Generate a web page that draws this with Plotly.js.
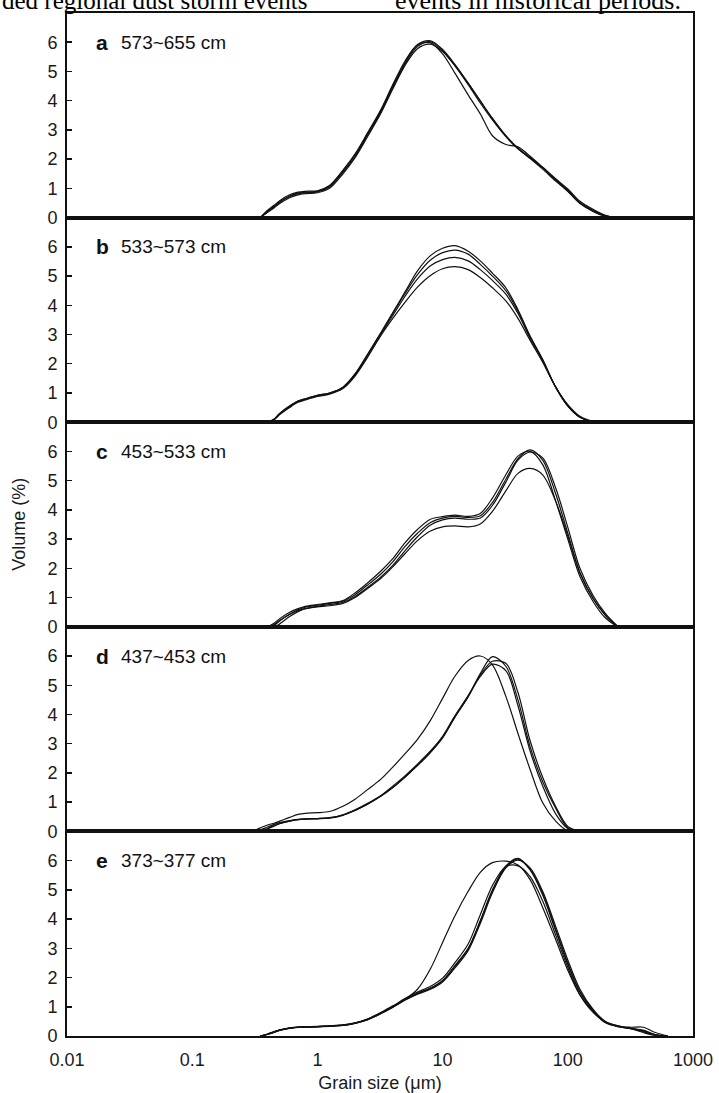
<!DOCTYPE html>
<html>
<head>
<meta charset="utf-8">
<script src="https://cdn.plot.ly/plotly-3.0.1.min.js"></script>
<style>html,body{margin:0;padding:0;background:#fff;}#chart{width:719px;height:1093px;}</style>
</head>
<body>
<div id="chart"></div>
<script>
// Panel labels
const panelLetters = ["a", "b", "c", "d", "e"];
const panelDepths = ["573~655 cm", "533~573 cm", "453~533 cm", "437~453 cm", "373~377 cm"];
const xTickVals = [0.01, 0.1, 1, 10, 100, 1000];
const xTickText = ["0.01", "0.1", "1", "10", "100", "1000"];
const yTickVals = [0, 1, 2, 3, 4, 5, 6];

// Panel a (573~655 cm) grain sizes (µm) and volume (%)
const sizeA = [0.35, 0.4, 0.45, 0.5, 0.6, 0.7, 0.8, 1, 1.25, 1.6, 2, 2.5, 3.2, 4, 5, 6.3, 8, 10, 12.5, 16, 20, 25, 32, 40, 50, 63, 80, 100, 125, 160, 200, 250];
const a1 = [0, 0.2, 0.36, 0.52, 0.72, 0.82, 0.85, 0.88, 1.05, 1.55, 2.1, 2.8, 3.6, 4.45, 5.25, 5.85, 6.02, 5.7, 5.2, 4.55, 3.92, 3.34, 2.77, 2.35, 2.04, 1.7, 1.3, 0.95, 0.52, 0.25, 0.06, 0];
const a2 = [0, 0.25, 0.42, 0.58, 0.78, 0.87, 0.9, 0.92, 1.1, 1.62, 2.18, 2.88, 3.68, 4.55, 5.35, 5.92, 6.05, 5.75, 5.25, 4.6, 3.98, 3.38, 2.8, 2.38, 2.06, 1.72, 1.33, 0.98, 0.56, 0.28, 0.08, 0];
const a3 = [0, 0.18, 0.33, 0.48, 0.68, 0.78, 0.82, 0.85, 1.0, 1.5, 2.05, 2.75, 3.55, 4.4, 5.2, 5.78, 5.93, 5.68, 5.22, 4.6, 4.0, 3.4, 2.8, 2.36, 2.02, 1.66, 1.25, 0.9, 0.48, 0.22, 0.05, 0];
const a4 = [0, 0.22, 0.38, 0.54, 0.74, 0.84, 0.87, 0.9, 1.08, 1.6, 2.15, 2.85, 3.65, 4.5, 5.3, 5.9, 5.98, 5.6, 4.95, 4.2, 3.55, 2.8, 2.5, 2.42, 2.1, 1.72, 1.3, 0.9, 0.5, 0.2, 0.04, 0];

// Panel b (533~573 cm)
const sizeB = [0.4, 0.45, 0.5, 0.6, 0.7, 0.8, 1, 1.25, 1.6, 2, 2.5, 3.2, 4, 5, 6.3, 8, 10, 12.5, 16, 20, 25, 32, 40, 50, 63, 80, 100, 125, 160, 200];
const b1 = [0, 0.1, 0.3, 0.55, 0.72, 0.8, 0.92, 1.0, 1.2, 1.65, 2.3, 3.05, 3.75, 4.45, 5.18, 5.7, 5.95, 6.04, 5.85, 5.52, 5.1, 4.6, 3.85, 2.95, 2.15, 1.2, 0.55, 0.17, 0.02, 0];
const b2 = [0, 0.1, 0.3, 0.55, 0.72, 0.8, 0.92, 1.0, 1.2, 1.65, 2.3, 3.03, 3.72, 4.4, 5.05, 5.55, 5.8, 5.89, 5.75, 5.4, 5.0, 4.5, 3.8, 2.92, 2.12, 1.2, 0.56, 0.17, 0.02, 0];
const b3 = [0, 0.09, 0.28, 0.53, 0.7, 0.78, 0.9, 0.98, 1.18, 1.62, 2.26, 3.0, 3.65, 4.3, 4.9, 5.35, 5.56, 5.64, 5.52, 5.22, 4.85, 4.38, 3.72, 2.88, 2.1, 1.2, 0.57, 0.18, 0.02, 0];
const b4 = [0, 0.08, 0.26, 0.5, 0.68, 0.76, 0.88, 0.96, 1.15, 1.58, 2.2, 2.95, 3.55, 4.1, 4.62, 5.02, 5.25, 5.32, 5.22, 4.95, 4.6, 4.15, 3.55, 2.8, 2.05, 1.2, 0.6, 0.2, 0.03, 0];

// Panel c (453~533 cm)
const sizeC = [0.4, 0.45, 0.5, 0.6, 0.7, 0.8, 1, 1.25, 1.6, 2, 2.5, 3.2, 4, 5, 6.3, 8, 10, 12.5, 16, 20, 25, 32, 40, 50, 63, 80, 100, 125, 160, 200, 250];
const c1 = [0, 0.12, 0.28, 0.5, 0.62, 0.7, 0.76, 0.82, 0.9, 1.16, 1.49, 1.9, 2.33, 2.87, 3.33, 3.68, 3.77, 3.82, 3.78, 3.88, 4.4, 5.2, 5.84, 6.0, 5.55, 4.3, 3.0, 1.72, 0.85, 0.3, 0];
const c2 = [0, 0.05, 0.2, 0.44, 0.58, 0.67, 0.74, 0.8, 0.88, 1.1, 1.42, 1.8, 2.22, 2.74, 3.2, 3.57, 3.72, 3.78, 3.74, 3.8, 4.25, 5.05, 5.75, 6.05, 5.7, 4.55, 3.2, 1.85, 0.95, 0.38, 0];
const c3 = [0, 0, 0.1, 0.35, 0.52, 0.62, 0.7, 0.76, 0.84, 1.04, 1.34, 1.7, 2.1, 2.6, 3.08, 3.48, 3.66, 3.72, 3.68, 3.72, 4.15, 4.95, 5.7, 5.98, 5.78, 4.75, 3.4, 2.0, 1.05, 0.45, 0.02];
const c4 = [0, 0.08, 0.22, 0.42, 0.55, 0.62, 0.68, 0.72, 0.8, 1.0, 1.3, 1.65, 2.05, 2.5, 2.95, 3.28, 3.42, 3.45, 3.42, 3.52, 3.95, 4.65, 5.25, 5.42, 5.2, 4.3, 3.1, 1.85, 0.95, 0.4, 0];

// Panel d (437~453 cm)
const sizeD = [0.3, 0.35, 0.4, 0.45, 0.5, 0.6, 0.7, 0.8, 1, 1.25, 1.6, 2, 2.5, 3.2, 4, 5, 6.3, 8, 10, 12.5, 16, 20, 25, 32, 40, 50, 63, 80, 100, 125, 160];
const d1 = [0, 0.12, 0.22, 0.28, 0.35, 0.48, 0.58, 0.62, 0.64, 0.68, 0.86, 1.1, 1.42, 1.78, 2.2, 2.65, 3.15, 3.8, 4.55, 5.3, 5.85, 6.0, 5.7, 4.62, 3.35, 2.12, 0.98, 0.35, 0.02, 0, 0];
const d2 = [0, 0, 0.08, 0.18, 0.26, 0.35, 0.4, 0.42, 0.43, 0.45, 0.55, 0.72, 0.92, 1.2, 1.5, 1.85, 2.25, 2.7, 3.2, 3.9, 4.6, 5.4, 5.98, 5.65, 4.5, 2.9, 1.7, 0.79, 0.12, 0, 0];
const d3 = [0, 0.05, 0.15, 0.24, 0.3, 0.37, 0.41, 0.43, 0.44, 0.47, 0.57, 0.74, 0.95, 1.22, 1.55, 1.9, 2.3, 2.75, 3.25, 3.95, 4.65, 5.35, 5.82, 5.75, 4.75, 3.1, 1.85, 0.85, 0.17, 0.01, 0];
const d4 = [0, 0, 0.1, 0.2, 0.27, 0.35, 0.4, 0.42, 0.44, 0.46, 0.56, 0.72, 0.93, 1.2, 1.5, 1.86, 2.27, 2.72, 3.22, 3.9, 4.62, 5.3, 5.72, 5.5, 4.3, 2.75, 1.55, 0.6, 0.1, 0, 0];

// Panel e (373~377 cm)
const sizeE = [0.35, 0.4, 0.45, 0.5, 0.6, 0.7, 0.8, 1, 1.25, 1.6, 2, 2.5, 3.2, 4, 5, 6.3, 8, 10, 12.5, 16, 20, 25, 32, 40, 50, 63, 80, 100, 125, 160, 200, 250, 320, 400, 500, 630];
const e1 = [0, 0.06, 0.14, 0.2, 0.27, 0.3, 0.31, 0.32, 0.34, 0.37, 0.44, 0.56, 0.78, 1.0, 1.25, 1.46, 1.64, 1.9, 2.4, 3.0, 3.95, 5.0, 5.82, 6.08, 5.7, 4.88, 3.65, 2.5, 1.52, 0.88, 0.5, 0.35, 0.27, 0.2, 0.05, 0];
const e2 = [0, 0.05, 0.12, 0.19, 0.26, 0.29, 0.3, 0.31, 0.33, 0.36, 0.43, 0.55, 0.76, 0.98, 1.22, 1.43, 1.6, 1.85, 2.32, 2.92, 3.85, 4.9, 5.75, 6.02, 5.75, 4.95, 3.75, 2.6, 1.6, 0.9, 0.48, 0.32, 0.25, 0.15, 0.03, 0];
const e3 = [0, 0.07, 0.15, 0.21, 0.28, 0.31, 0.32, 0.33, 0.35, 0.38, 0.45, 0.58, 0.8, 1.03, 1.28, 1.5, 1.7, 1.98, 2.5, 3.15, 4.15, 5.15, 5.8, 5.82, 5.45, 4.62, 3.45, 2.35, 1.42, 0.82, 0.46, 0.33, 0.25, 0.18, 0.04, 0];
const e4 = [0, 0.06, 0.13, 0.2, 0.27, 0.3, 0.31, 0.32, 0.34, 0.37, 0.44, 0.56, 0.77, 0.99, 1.24, 1.45, 1.63, 1.88, 2.38, 2.98, 3.92, 4.95, 5.78, 6.05, 5.68, 4.82, 3.6, 2.45, 1.5, 0.85, 0.45, 0.33, 0.3, 0.3, 0.12, 0];
const e5 = [0, 0.06, 0.14, 0.2, 0.27, 0.3, 0.31, 0.32, 0.34, 0.37, 0.44, 0.56, 0.78, 1.0, 1.25, 1.6, 2.3, 3.2, 4.1, 4.95, 5.6, 5.93, 5.98, 5.85, 5.35, 4.4, 3.3, 2.25, 1.4, 0.8, 0.48, 0.35, 0.25, 0.12, 0.02, 0];

// Header text cropped from the source page
const headerLeft = "ded regional dust storm events";
const headerRight = "events in historical periods.";

const panels = [
  {size: sizeA, curves: [a1, a2, a3, a4]},
  {size: sizeB, curves: [b1, b2, b3, b4]},
  {size: sizeC, curves: [c1, c2, c3, c4]},
  {size: sizeD, curves: [d1, d2, d3, d4]},
  {size: sizeE, curves: [e1, e2, e3, e4, e5]}
];

const FONT = "Liberation Sans, Arial, sans-serif";
const traces = [];
const layout = {
  width: 719, height: 1093,
  margin: {l: 67, r: 26, t: 13, b: 57, pad: 0},
  paper_bgcolor: "#ffffff", plot_bgcolor: "#ffffff",
  showlegend: false,
  font: {family: FONT, color: "#1a1a1a", size: 18},
  annotations: []
};

const n = panels.length;
panels.forEach((p, i) => {
  const k = i + 1;
  const xa = k === 1 ? "x" : "x" + k;
  const ya = k === 1 ? "y" : "y" + k;
  p.curves.forEach(c => {
    traces.push({
      type: "scatter", mode: "lines", x: p.size, y: c,
      xaxis: xa, yaxis: ya,
      line: {color: "#111111", width: 1.2, shape: "spline", smoothing: 0.9},
      hoverinfo: "skip"
    });
  });
  const top = 1 - i / n, bot = 1 - (i + 1) / n;
  const isBottom = (i === n - 1);
  layout[k === 1 ? "xaxis" : "xaxis" + k] = {
    type: "log", range: [-2, 3], domain: [0, 1], anchor: ya,
    showline: true, mirror: true, linecolor: "#111", linewidth: 2,
    showgrid: false, zeroline: false, ticks: "",
    tickmode: "array", tickvals: xTickVals, ticktext: xTickText,
    showticklabels: isBottom,
    ticklabelstandoff: 6,
    tickfont: {family: FONT, size: 18, color: "#1a1a1a"},
    title: isBottom ? {text: "Grain size (μm)", font: {family: FONT, size: 18, color: "#1a1a1a"}, standoff: 8} : {text: ""},
    fixedrange: true
  };
  if (k !== 1) layout["xaxis" + k].matches = "x";
  layout[k === 1 ? "yaxis" : "yaxis" + k] = {
    range: [0, 7], domain: [bot, top], anchor: xa,
    showline: true, mirror: true, linecolor: "#111", linewidth: 2,
    showgrid: false, zeroline: false,
    ticks: "inside", ticklen: 5, tickwidth: 1.5, tickcolor: "#111",
    tickmode: "array", tickvals: yTickVals,
    tickfont: {family: FONT, size: 18, color: "#1a1a1a"},
    ticklabelstandoff: 4,
    fixedrange: true
  };
  layout.annotations.push({
    xref: "paper", yref: ya, x: 0.043, y: 6, xanchor: "left", yanchor: "middle",
    text: "<b>" + panelLetters[i] + "</b>", showarrow: false,
    font: {family: FONT, size: 21, color: "#111"}
  });
  layout.annotations.push({
    xref: "paper", yref: ya, x: 0.083, y: 6, xanchor: "left", yanchor: "middle",
    text: panelDepths[i], showarrow: false,
    font: {family: FONT, size: 19, color: "#111"}
  });
});

// y axis title (shared)
layout.annotations.push({
  xref: "paper", yref: "paper", x: -0.078, y: 0.5, xanchor: "center", yanchor: "middle",
  text: "Volume (%)", textangle: -90, showarrow: false,
  font: {family: FONT, size: 18, color: "#1a1a1a"}
});
// cropped header text
layout.annotations.push({
  xref: "paper", yref: "paper", x: -0.107, y: 1.0127, xanchor: "left", yanchor: "middle",
  text: headerLeft, showarrow: false,
  font: {family: "Liberation Serif, Times New Roman, serif", size: 25, color: "#000"}
});
layout.annotations.push({
  xref: "paper", yref: "paper", x: 0.52, y: 1.0127, xanchor: "left", yanchor: "middle",
  text: headerRight, showarrow: false,
  font: {family: "Liberation Serif, Times New Roman, serif", size: 26, color: "#000"}
});

Plotly.newPlot("chart", traces, layout, {displayModeBar: false, staticPlot: true});
</script>
</body>
</html>
